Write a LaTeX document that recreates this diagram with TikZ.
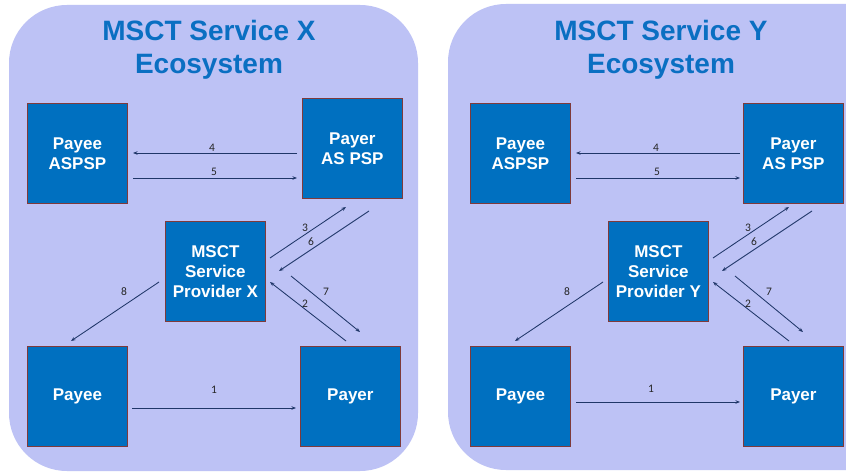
\documentclass[tikz,border=0pt]{standalone}
\usepackage{fontspec}
\setmainfont{Liberation Sans}
\newfontfamily\numfont{Carlito}
\usetikzlibrary{arrows.meta}
\definecolor{bgpanel}{HTML}{BDC2F5}
\definecolor{boxblue}{HTML}{0070C0}
\definecolor{boxedge}{HTML}{7F3A3A}
\definecolor{arrowc}{HTML}{1F3668}
\definecolor{titleblue}{HTML}{0A6FC2}
\tikzset{
  panel/.style={fill=bgpanel, draw=none, rounded corners=58pt},
  ent/.style={draw=boxedge, line width=0.8pt, fill=boxblue, minimum width=100pt, minimum height=100pt, anchor=north west, inner sep=0pt, text=white, font=\fontsize{17}{20}\selectfont\bfseries, align=center},
  ttl/.style={text=titleblue, font=\fontsize{28}{33}\selectfont\bfseries, align=center},
  flow/.style={draw=arrowc, line width=0.85pt, -{Stealth[length=4.5pt,width=3.5pt]}},
  num/.style={font=\numfont\fontsize{11.5}{12}\selectfont, text=black!85, inner sep=0pt}
}
\begin{document}
\begin{tikzpicture}[x=1pt,y=-1pt]
\useasboundingbox (0,0) rectangle (846,473);
\clip (0,0) rectangle (846,473);
\fill[white] (0,0) rectangle (846,473);
% panels
\fill[panel] (9,5) rectangle (418,471);
\fill[panel] (448,4) rectangle (920,470);
% titles
\node[ttl] (tx) at (209,50) {MSCT Service X\\Ecosystem};
\node[ttl] (ty) at (661,50) {MSCT Service Y\\Ecosystem};
% ---------- left panel ----------
\node[ent] (xaspsp) at (27,103) {Payee\\ASPSP};
\node[ent] (xaspsp2) at (302,98) {Payer\\AS PSP};
\node[ent] (xsp) at (165,221) {MSCT\\Service\\Provider X};
\node[ent] (xpayee) at (27,346) {Payee};
\node[ent] (xpayer) at (300,346) {Payer};
\coordinate (x4s) at (297,153); \coordinate (x4e) at (133,153);
\coordinate (x5s) at (133,178); \coordinate (x5e) at (297,178);
\coordinate (x3s) at (270,258); \coordinate (x3e) at (346,207);
\coordinate (x6s) at (369,211); \coordinate (x6e) at (279,271);
\coordinate (x7s) at (291,276); \coordinate (x7e) at (360,332);
\coordinate (x2s) at (346,341); \coordinate (x2e) at (270,282);
\coordinate (x8s) at (159,282); \coordinate (x8e) at (71,341);
\coordinate (x1s) at (132,408); \coordinate (x1e) at (296,408);
\draw[flow] (x4s) -- (x4e);
\draw[flow] (x5s) -- (x5e);
\draw[flow] (x3s) -- (x3e);
\draw[flow] (x6s) -- (x6e);
\draw[flow] (x7s) -- (x7e);
\draw[flow] (x2s) -- (x2e);
\draw[flow] (x8s) -- (x8e);
\draw[flow] (x1s) -- (x1e);
\node[num] (xl4) at (212,148) {4};
\node[num] (xl5) at (214,172) {5};
\node[num] (xl3) at (305,228) {3};
\node[num] (xl6) at (311,242) {6};
\node[num] (xl7) at (326,292) {7};
\node[num] (xl2) at (305,304) {2};
\node[num] (xl8) at (124,292) {8};
\node[num] (xl1) at (214,390) {1};
% ---------- right panel ----------
\node[ent] (yaspsp) at (470,103) {Payee\\ASPSP};
\node[ent] (yaspsp2) at (743,103) {Payer\\AS PSP};
\node[ent] (ysp) at (608,221) {MSCT\\Service\\Provider Y};
\node[ent] (ypayee) at (470,346) {Payee};
\node[ent] (ypayer) at (743,346) {Payer};
\coordinate (y4s) at (740,153); \coordinate (y4e) at (576,153);
\coordinate (y5s) at (576,178); \coordinate (y5e) at (740,178);
\coordinate (y3s) at (713,258); \coordinate (y3e) at (789,207);
\coordinate (y6s) at (812,211); \coordinate (y6e) at (722,271);
\coordinate (y7s) at (735,276); \coordinate (y7e) at (803,332);
\coordinate (y2s) at (789,341); \coordinate (y2e) at (713,282);
\coordinate (y8s) at (603,282); \coordinate (y8e) at (515,341);
\coordinate (y1s) at (576,402); \coordinate (y1e) at (740,402);
\draw[flow] (y4s) -- (y4e);
\draw[flow] (y5s) -- (y5e);
\draw[flow] (y3s) -- (y3e);
\draw[flow] (y6s) -- (y6e);
\draw[flow] (y7s) -- (y7e);
\draw[flow] (y2s) -- (y2e);
\draw[flow] (y8s) -- (y8e);
\draw[flow] (y1s) -- (y1e);
\node[num] (yl4) at (656,148) {4};
\node[num] (yl5) at (657,172) {5};
\node[num] (yl3) at (748,228) {3};
\node[num] (yl6) at (754,242) {6};
\node[num] (yl7) at (769,292) {7};
\node[num] (yl2) at (748,304) {2};
\node[num] (yl8) at (567,292) {8};
\node[num] (yl1) at (651,389) {1};
\end{tikzpicture}
\end{document}
